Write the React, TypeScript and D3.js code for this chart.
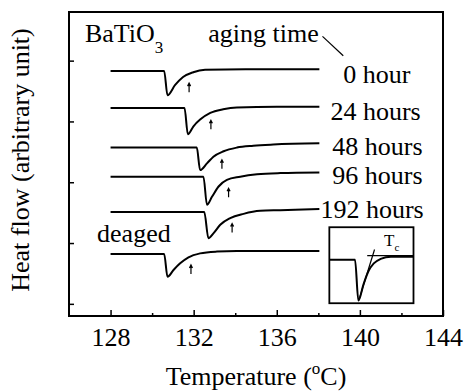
import React, { useRef, useEffect } from "react";
import * as d3 from "d3";

// heat flow traces, [temperature (C), heat flow (arb.)]
const curve0h = [
  [128.0, 4.03], [130.58, 4.03], [130.74, 3.63], [131.11, 3.8], [131.49, 3.93],
  [131.98, 4.01], [132.55, 4.05], [134.5, 4.06], [138.05, 4.06],
];
const curve24h = [
  [128.0, 3.42], [131.56, 3.42], [131.72, 2.99], [131.99, 3.12], [132.31, 3.23],
  [132.8, 3.34], [133.42, 3.4], [134.08, 3.43], [136.0, 3.44], [138.05, 3.44],
];
const curve48h = [
  [128.0, 2.77], [132.15, 2.77], [132.31, 2.4], [132.64, 2.51], [132.95, 2.62],
  [133.44, 2.71], [134.08, 2.77], [134.87, 2.8], [135.83, 2.82], [138.05, 2.84],
];
const curve96h = [
  [128.0, 2.29], [132.47, 2.29], [132.64, 1.83], [132.88, 1.96], [133.2, 2.13],
  [133.6, 2.24], [134.24, 2.29], [135.05, 2.33], [136.17, 2.35], [138.05, 2.36],
];
const curve192h = [
  [128.0, 1.71], [132.51, 1.71], [132.71, 1.28], [132.95, 1.36], [133.28, 1.5],
  [133.76, 1.61], [134.4, 1.68], [135.2, 1.73], [136.17, 1.74], [138.05, 1.76],
];
const curveDeaged = [
  [128.0, 1.02], [130.58, 1.02], [130.74, 0.646], [131.03, 0.757], [131.35, 0.866],
  [131.75, 0.965], [132.31, 1.03], [133.12, 1.06], [134.08, 1.07], [138.05, 1.07],
];
const curves = [curve0h, curve24h, curve48h, curve96h, curve192h, curveDeaged];

// small arrows marking Tc on each trace (tip position)
const tcMarks = [
  [131.78, 3.83], [132.83, 3.22], [133.36, 2.57], [133.68, 2.1], [133.85, 1.52], [131.87, 0.84],
];

// aging time labels
const ageLabels = ["0 hour", "24 hours", "48 hours", "96 hours", "192 hours"];
const ageLabelPos = [
  [139.2, 3.83], [138.58, 3.22], [138.67, 2.65], [138.67, 2.17], [138.1, 1.61],
];

const xTicks = [128, 132, 136, 140, 144];
const xMinorTicks = [130, 134, 138, 142];
const yTicks = [0.2, 1.2, 2.2, 3.2, 4.2];

// inset (own units) : DSC peak with tangent construction for Tc
const insetCurve = [
  [0, 0.573], [3.05, 0.573], [3.45, 0.036], [4.06, 0.249], [4.67, 0.427],
  [5.28, 0.524], [6.1, 0.583], [7.32, 0.613], [10, 0.613],
];
const insetTangent = [[3.54, 0.053], [5.37, 0.707]];
const insetBaseline = [[4.5, 0.627], [10, 0.627]];
const insetBox = [[138.53, 0.21], [142.58, 1.46]];

const W = 466;
const H = 391;
const FONT = "Liberation Serif, Times New Roman, Times, DejaVu Serif, serif";
const FS = 26;

const App = () => {
  const svgRef = useRef(null);

  useEffect(() => {
    const svg = d3.select(svgRef.current);
    svg.selectAll("*").remove();

    const x = d3.scaleLinear().domain([126, 144]).range([69, 443]);
    const y = d3.scaleLinear().domain([0, 5]).range([316, 12]);

    // axes with inward ticks
    const xAxis = svg
      .append("g")
      .attr("transform", `translate(0, ${y(0)})`)
      .call(d3.axisBottom(x).tickValues(xTicks).tickSize(-6).tickPadding(12).tickFormat(d3.format("d")));
    xAxis.attr("font-family", null).attr("font-size", null);
    xAxis.select(".domain").remove();
    xAxis.selectAll("line").attr("stroke-width", 1.5);
    xAxis.selectAll("text").style("font-family", FONT).style("font-size", FS + "px").attr("fill", "#000");

    const xMinor = svg
      .append("g")
      .attr("transform", `translate(0, ${y(0)})`)
      .call(d3.axisBottom(x).tickValues(xMinorTicks).tickSize(-3).tickFormat(() => ""));
    xMinor.select(".domain").remove();
    xMinor.selectAll("line").attr("stroke-width", 1.5);

    const yAxis = svg
      .append("g")
      .attr("transform", `translate(${x(126)}, 0)`)
      .call(d3.axisLeft(y).tickValues(yTicks).tickSize(-5).tickFormat(() => ""));
    yAxis.select(".domain").remove();
    yAxis.selectAll("line").attr("stroke-width", 1.5);

    // frame
    svg
      .append("rect")
      .attr("x", x(126))
      .attr("y", y(5))
      .attr("width", x(144) - x(126))
      .attr("height", y(0) - y(5))
      .attr("fill", "none")
      .attr("stroke", "#000")
      .attr("stroke-width", 2);

    const line = d3
      .line()
      .x((d) => x(d[0]))
      .y((d) => y(d[1]))
      .curve(d3.curveMonotoneX);

    svg
      .selectAll(".trace")
      .data(curves)
      .enter()
      .append("path")
      .attr("class", "trace")
      .attr("d", line)
      .attr("fill", "none")
      .attr("stroke", "#000")
      .attr("stroke-width", 2);

    // Tc arrows
    tcMarks.forEach(([t, v]) => {
      const px = x(t);
      const py = y(v);
      svg
        .append("path")
        .attr("d", `M${px},${py + 9} L${px},${py} M${px - 1.5},${py + 3} L${px},${py} L${px + 1.5},${py + 3}`)
        .attr("fill", "none")
        .attr("stroke", "#000")
        .attr("stroke-width", 1.2);
    });

    // labels
    const text = (tx, ty, str, size = FS, anchor = "start") =>
      svg
        .append("text")
        .attr("x", tx)
        .attr("y", ty)
        .style("font-family", FONT)
        .style("font-size", size + "px")
        .attr("text-anchor", anchor)
        .attr("fill", "#000")
        .text(str);

    ageLabels.forEach((lab, i) => text(x(ageLabelPos[i][0]), y(ageLabelPos[i][1]), lab));

    const bt = text(x(126.77), y(4.5), "BaTiO");
    bt.append("tspan").style("font-size", "17px").attr("dy", 11).text("3");
    text(x(132.7), y(4.5), "aging time");
    svg
      .append("line")
      .attr("x1", x(138.2))
      .attr("y1", y(4.6))
      .attr("x2", x(139.2))
      .attr("y2", y(4.28))
      .attr("stroke", "#000")
      .attr("stroke-width", 1.2);
    text(x(127.35), y(1.22), "deaged");

    // inset
    const ix = d3.scaleLinear().domain([0, 10]).range([x(insetBox[0][0]), x(insetBox[1][0])]);
    const iy = d3.scaleLinear().domain([0, 1]).range([y(insetBox[0][1]), y(insetBox[1][1])]);
    svg
      .append("rect")
      .attr("x", ix(0))
      .attr("y", iy(1))
      .attr("width", ix(10) - ix(0))
      .attr("height", iy(0) - iy(1))
      .attr("fill", "#fff")
      .attr("stroke", "#000")
      .attr("stroke-width", 1.8);
    const iline = d3
      .line()
      .x((d) => ix(d[0]))
      .y((d) => iy(d[1]));
    svg
      .append("path")
      .attr("d", iline.curve(d3.curveMonotoneX)(insetCurve))
      .attr("fill", "none")
      .attr("stroke", "#000")
      .attr("stroke-width", 2);
    svg
      .append("path")
      .attr("d", d3.line().x((d) => ix(d[0])).y((d) => iy(d[1]))(insetTangent))
      .attr("fill", "none")
      .attr("stroke", "#000")
      .attr("stroke-width", 1.2);
    svg
      .append("path")
      .attr("d", d3.line().x((d) => ix(d[0])).y((d) => iy(d[1]))(insetBaseline))
      .attr("fill", "none")
      .attr("stroke", "#000")
      .attr("stroke-width", 1.2);
    const tc = text(ix(6.5), iy(0.75), "T", 17);
    tc.append("tspan").style("font-size", "11px").attr("dy", 5).text("c");

    // axis titles
    const xt = text((x(126) + x(144)) / 2, 385, "Temperature (", FS, "middle");
    xt.append("tspan").style("font-size", "17px").attr("dy", -11).text("o");
    xt.append("tspan").attr("dy", 11).text("C)");

    svg
      .append("text")
      .attr("transform", `translate(29, ${(y(0) + y(5)) / 2 - 4}) rotate(-90)`)
      .style("font-family", FONT)
      .style("font-size", FS + "px")
      .attr("text-anchor", "middle")
      .attr("fill", "#000")
      .text("Heat flow (arbitrary unit)");
  }, []);

  return (
    <div>
      <svg
        ref={svgRef}
        width={W}
        height={H}
        style={{ position: "absolute", left: 0, top: 0, background: "#fff" }}
      ></svg>
    </div>
  );
};

export default App;
